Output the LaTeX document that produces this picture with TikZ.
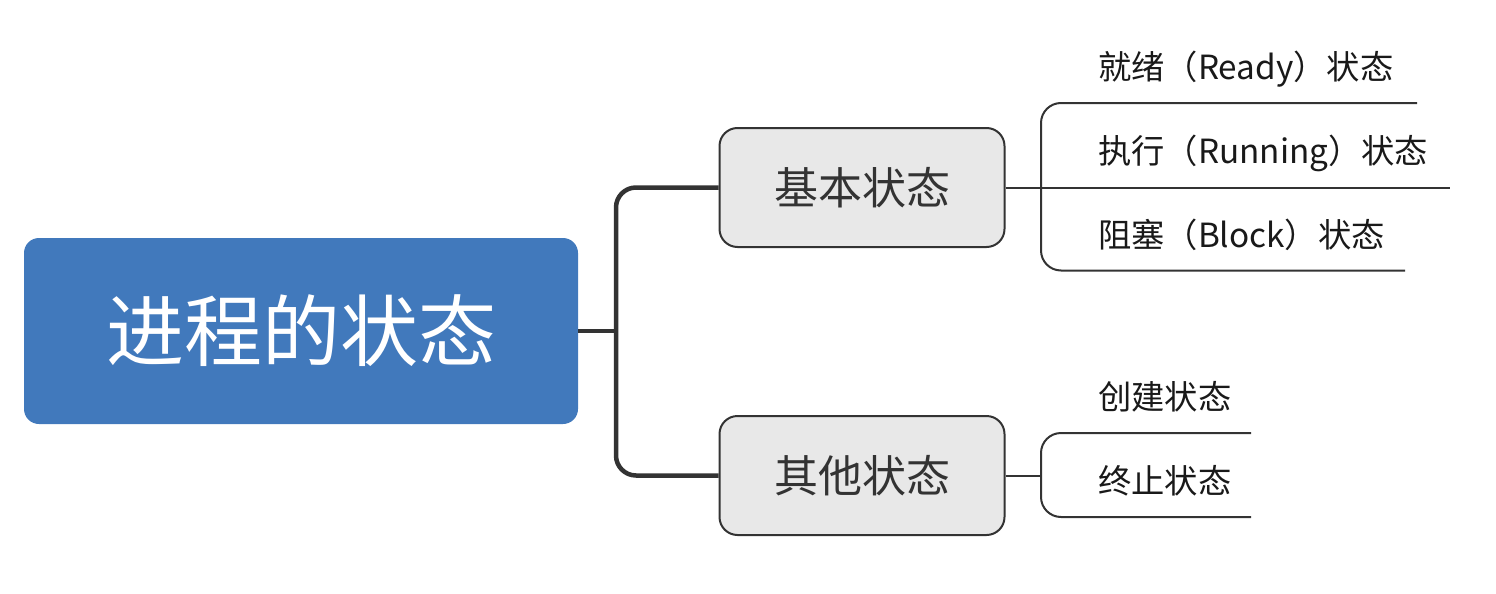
\documentclass[tikz,border=0pt]{standalone}
\usepackage{fontspec}
\newfontfamily\cjk{Noto Sans CJK SC}
\usetikzlibrary{calc}

\definecolor{rootblue}{HTML}{4179BC}
\definecolor{boxgray}{HTML}{E8E8E8}
\definecolor{inkdark}{HTML}{333333}

\begin{document}
\begin{tikzpicture}[
    line join=round,
    % pixel-like units, y grows downwards
    x=1pt, y=-1pt
]

% ---------------------------------------------------------
% 1. PAGE SIZE (same as the 1496 x 594 drawing)
% ---------------------------------------------------------
\path [use as bounding box] (0,0) rectangle (1496,594);

% ---------------------------------------------------------
% 2. STYLES
% ---------------------------------------------------------
\tikzset{root box/.style={fill=rootblue, rounded corners=15pt, minimum width=554pt,
    minimum height=186pt, text=white, font=\cjk\fontsize{78}{90}\selectfont}}
\tikzset{branch box/.style={draw=inkdark, line width=2pt, fill=boxgray, rounded corners=18pt,
    minimum width=285pt, minimum height=119pt, text=inkdark, font=\cjk\fontsize{44}{52}\selectfont}}
\tikzset{leaf/.style={anchor=base west, inner sep=0pt, text=black!90, font=\cjk\fontsize{33.3}{40}\selectfont}}
\tikzset{trunk/.style={draw=inkdark, line width=4.5pt, rounded corners=20pt}}
\tikzset{twig/.style={draw=inkdark, line width=2pt, rounded corners=20pt}}

% ---------------------------------------------------------
% 3. NODES
% ---------------------------------------------------------
\node[root box]   (root)  at (301,331)   {进程的状态};
\node[branch box] (basic) at (862,187.5) {基本状态};
\node[branch box] (other) at (862,475.5) {其他状态};

% Leaves of the basic states
\node[leaf] (ready)   at (1098,79)  {就绪（Ready）状态};
\node[leaf] (running) at (1098,163) {执行（Running）状态};
\node[leaf] (block)   at (1098,247) {阻塞（Block）状态};

% Leaves of the other states
\node[leaf] (create)  at (1098,409) {创建状态};
\node[leaf] (finish)  at (1098,493) {终止状态};

% Fork points and line ends
\coordinate (trunk)       at (616,331);
\coordinate (basic fork)  at (1041,187.5);
\coordinate (other fork)  at (1041,475.5);
\coordinate (ready end)   at (1417,103);
\coordinate (running end) at (1450,187.5);
\coordinate (block end)   at (1405,270.5);
\coordinate (create end)  at (1251,433);
\coordinate (finish end)  at (1251,517);

% ---------------------------------------------------------
% 4. CONNECTORS
% ---------------------------------------------------------
\draw[trunk] (root.east) -- (trunk);
\draw[trunk] (basic.west) -| (trunk) |- (other.west);

\draw[twig] (basic.east) -- (running end);
\draw[twig] (ready end) -| (basic fork) |- (block end);

\draw[twig] (other.east) -- (other fork);
\draw[twig] (create end) -| (other fork) |- (finish end);

\end{tikzpicture}
\end{document}
